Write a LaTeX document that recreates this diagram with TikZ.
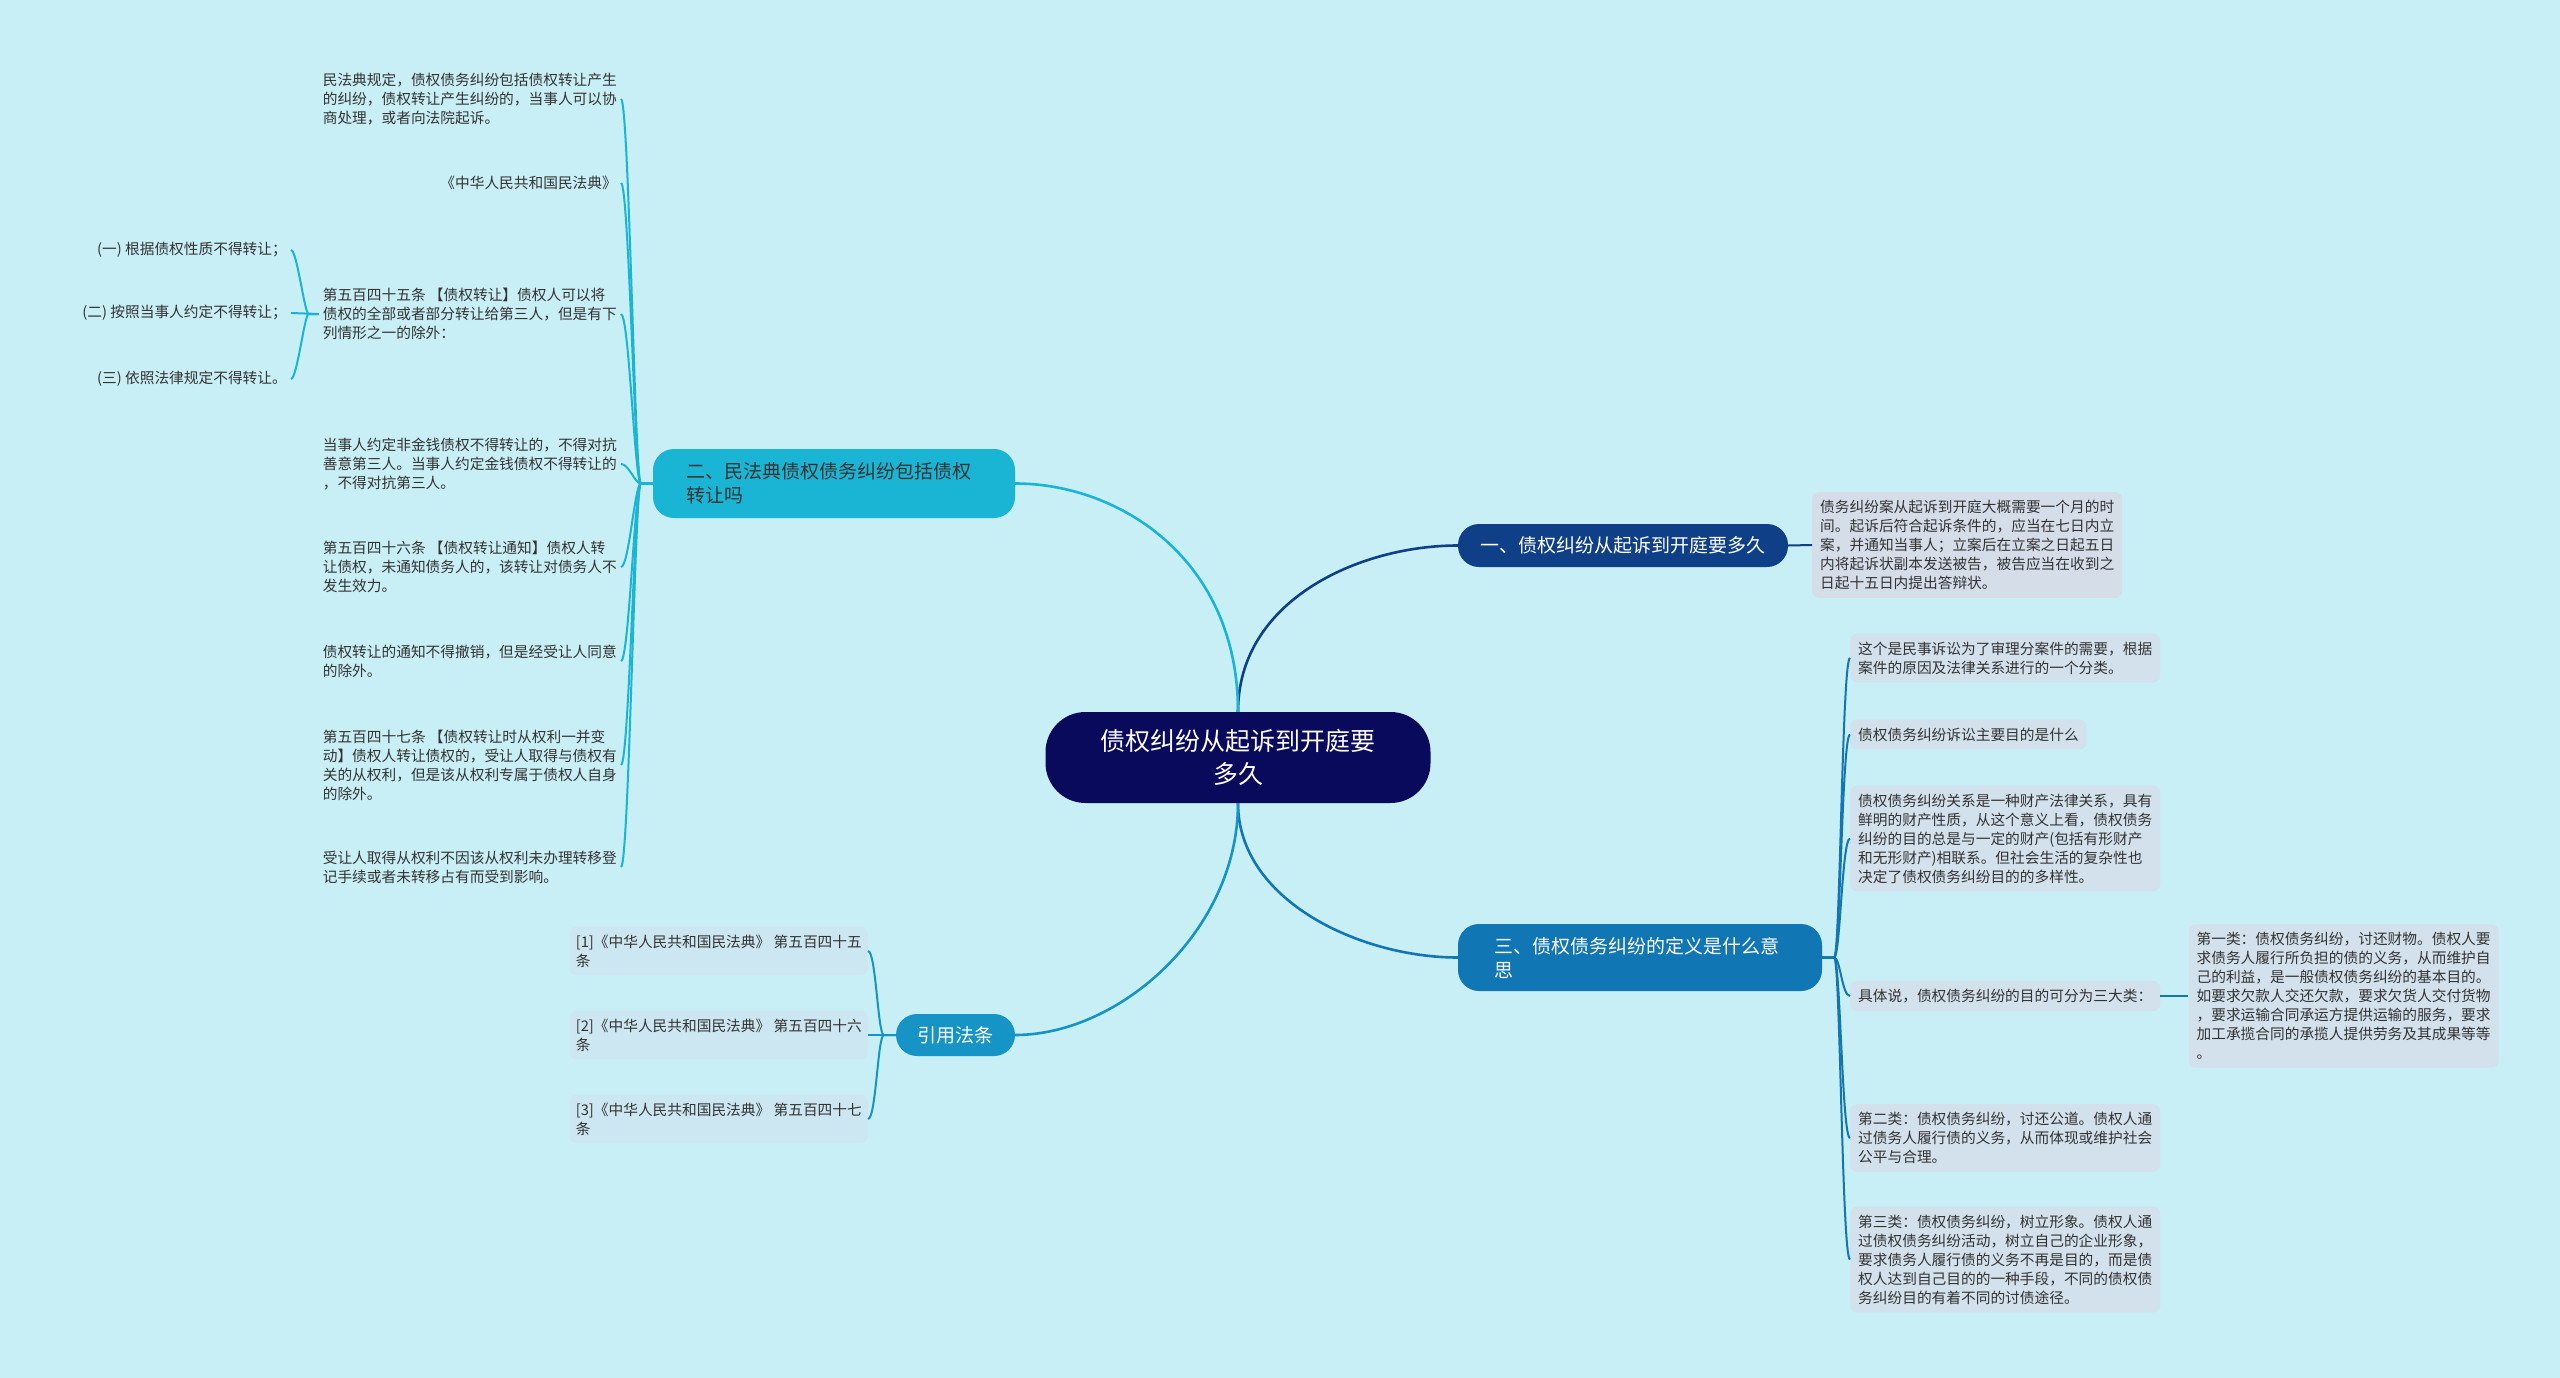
\documentclass[tikz,border=0pt]{standalone}
\usepackage{fontspec}
\setmainfont{Noto Sans CJK SC}
\usepackage{tikz}
\usetikzlibrary{positioning, calc}

\definecolor{bgcyan}{HTML}{C8EEF6}
\definecolor{rootnavy}{HTML}{0A0A5C}
\definecolor{navyone}{HTML}{0E3F87}
\definecolor{cyantwo}{HTML}{1AB4D4}
\definecolor{bluethree}{HTML}{1176B4}
\definecolor{bluefour}{HTML}{1594C5}
\definecolor{leafgray}{HTML}{D2E1EC}
\definecolor{leaflav}{HTML}{D5DDE9}
\definecolor{leaflight}{HTML}{CCE7F1}
\definecolor{textgray}{HTML}{333333}

\begin{document}
\begin{tikzpicture}[
  x=1pt, y=-1pt,
  root/.style={rectangle, rounded corners=40pt, fill=rootnavy, text=white, align=center,
               font=\fontsize{25}{33}\selectfont, minimum width=385pt, minimum height=91pt},
  topic/.style={rectangle, rounded corners=21pt, text=white, align=left,
                font=\fontsize{19}{24}\selectfont},
  leaf/.style={rectangle, rounded corners=7pt, fill=leafgray, text=textgray, align=left,
               font=\fontsize{14.7}{19}\selectfont, inner xsep=8pt, inner ysep=8pt},
  note/.style={leaf, fill=none, inner xsep=4pt},
  link/.style={line width=2pt},
  trunk/.style={line width=2.6pt}
]
\useasboundingbox (0,0) rectangle (2560,1378);
\fill[bgcyan] (0,0) rectangle (2560,1378);

% Central topic
\node[root] (root) at (1238,757.5) {债权纠纷从起诉到开庭要\\多久};

% Main branches
\node[topic, fill=navyone, minimum width=330pt, minimum height=43pt] (one) at (1623,545.5)
  {一、债权纠纷从起诉到开庭要多久};
\node[topic, fill=cyantwo, text=textgray, text width=296pt, inner xsep=33pt, minimum height=69pt] (two) at (834,483.5)
  {二、民法典债权债务纠纷包括债权\\转让吗};
\node[topic, fill=bluethree, text width=292pt, inner xsep=36pt, minimum height=67pt] (three) at (1640,957.5)
  {三、债权债务纠纷的定义是什么意\\思};
\node[topic, fill=bluefour, minimum width=119pt, minimum height=42pt] (four) at (955.5,1035)
  {引用法条};

% Branch one: answer
\node[leaf, fill=leaflav, anchor=west] (ans) at (1812,545)
  {债务纠纷案从起诉到开庭大概需要一个月的时\\间。起诉后符合起诉条件的，应当在七日内立\\案，并通知当事人；立案后在立案之日起五日\\内将起诉状副本发送被告，被告应当在收到之\\日起十五日内提出答辩状。};

% Branch two: civil code notes
\node[note, anchor=east] (law1) at (621,99)
  {民法典规定，债权债务纠纷包括债权转让产生\\的纠纷，债权转让产生纠纷的，当事人可以协\\商处理，或者向法院起诉。};
\node[note, anchor=east] (law2) at (621,183) {《中华人民共和国民法典》};
\node[note, anchor=east] (law3) at (621,314)
  {第五百四十五条 【债权转让】债权人可以将\\债权的全部或者部分转让给第三人，但是有下\\列情形之一的除外：};
\node[note, anchor=east] (law4) at (621,464)
  {当事人约定非金钱债权不得转让的，不得对抗\\善意第三人。当事人约定金钱债权不得转让的\\，不得对抗第三人。};
\node[note, anchor=east] (law5) at (621,567)
  {第五百四十六条 【债权转让通知】债权人转\\让债权，未通知债务人的，该转让对债务人不\\发生效力。};
\node[note, anchor=east] (law6) at (621,661)
  {债权转让的通知不得撤销，但是经受让人同意\\的除外。};
\node[note, anchor=east] (law7) at (621,765)
  {第五百四十七条 【债权转让时从权利一并变\\动】债权人转让债权的，受让人取得与债权有\\关的从权利，但是该从权利专属于债权人自身\\的除外。};
\node[note, anchor=east] (law8) at (621,867)
  {受让人取得从权利不因该从权利未办理转移登\\记手续或者未转移占有而受到影响。};

% Exceptions of article 545
\node[note, anchor=east] (exc1) at (291,250) {(一) 根据债权性质不得转让；};
\node[note, anchor=east] (exc2) at (291,313) {(二) 按照当事人约定不得转让；};
\node[note, anchor=east] (exc3) at (291,379) {(三) 依照法律规定不得转让。};

% Branch three: definition
\node[leaf, anchor=west] (def1) at (1850,658)
  {这个是民事诉讼为了审理分案件的需要，根据\\案件的原因及法律关系进行的一个分类。};
\node[leaf, anchor=west] (def2) at (1850,734.5) {债权债务纠纷诉讼主要目的是什么};
\node[leaf, anchor=west] (def3) at (1850,838.5)
  {债权债务纠纷关系是一种财产法律关系，具有\\鲜明的财产性质，从这个意义上看，债权债务\\纠纷的目的总是与一定的财产(包括有形财产\\和无形财产)相联系。但社会生活的复杂性也\\决定了债权债务纠纷目的的多样性。};
\node[leaf, anchor=west] (def4) at (1850,996) {具体说，债权债务纠纷的目的可分为三大类：};
\node[leaf, anchor=west] (def5) at (1850,1138)
  {第二类：债权债务纠纷，讨还公道。债权人通\\过债务人履行债的义务，从而体现或维护社会\\公平与合理。};
\node[leaf, anchor=west] (def6) at (1850,1259.5)
  {第三类：债权债务纠纷，树立形象。债权人通\\过债权债务纠纷活动，树立自己的企业形象，\\要求债务人履行债的义务不再是目的，而是债\\权人达到自己目的的一种手段，不同的债权债\\务纠纷目的有着不同的讨债途径。};
\node[leaf, right=28pt of def4] (kind1)
  {第一类：债权债务纠纷，讨还财物。债权人要\\求债务人履行所负担的债的义务，从而维护自\\己的利益，是一般债权债务纠纷的基本目的。\\如要求欠款人交还欠款，要求欠货人交付货物\\，要求运输合同承运方提供运输的服务，要求\\加工承揽合同的承揽人提供劳务及其成果等等\\。};

% Branch four: cited articles
\node[leaf, fill=leaflight, inner xsep=6pt, anchor=east] (ref1) at (868,951)
  {[1]《中华人民共和国民法典》 第五百四十五\\条};
\node[leaf, fill=leaflight, inner xsep=6pt, anchor=east] (ref2) at (868,1035)
  {[2]《中华人民共和国民法典》 第五百四十六\\条};
\node[leaf, fill=leaflight, inner xsep=6pt, anchor=east] (ref3) at (868,1119)
  {[3]《中华人民共和国民法典》 第五百四十七\\条};

% Links: root -> main branches
\draw[trunk, navyone] (root.north) .. controls +(0,-112) and +(-98,0) .. (one.west);
\draw[trunk, cyantwo] (root.north) .. controls +(0,-152) and +(105,0) .. (two.east);
\draw[trunk, bluethree] (root.south) .. controls +(0,97) and +(-98,0) .. (three.west);
\draw[trunk, bluefour] (root.south) .. controls +(0,127) and +(105,0) .. (four.east);

% Links: branch one
\draw[link, navyone] (one.east) -- (ans.west);

% Links: branch two
\draw[link, cyantwo] (two.west) -- ++(-12,0) .. controls +(-6,0) and +(8,0) .. (law1.east);
\draw[link, cyantwo] (two.west) -- ++(-12,0) .. controls +(-6,0) and +(8,0) .. (law2.east);
\draw[link, cyantwo] (two.west) -- ++(-12,0) .. controls +(-6,0) and +(8,0) .. (law3.east);
\draw[link, cyantwo] (two.west) -- ++(-12,0) .. controls +(-6,0) and +(8,0) .. (law4.east);
\draw[link, cyantwo] (two.west) -- ++(-12,0) .. controls +(-6,0) and +(8,0) .. (law5.east);
\draw[link, cyantwo] (two.west) -- ++(-12,0) .. controls +(-6,0) and +(8,0) .. (law6.east);
\draw[link, cyantwo] (two.west) -- ++(-12,0) .. controls +(-6,0) and +(8,0) .. (law7.east);
\draw[link, cyantwo] (two.west) -- ++(-12,0) .. controls +(-6,0) and +(8,0) .. (law8.east);

% Links: article 545 exceptions
\draw[link, cyantwo] (law3.west) -- ++(-10,0) .. controls +(-4,0) and +(6,0) .. (exc1.east);
\draw[link, cyantwo] (law3.west) -- (exc2.east);
\draw[link, cyantwo] (law3.west) -- ++(-10,0) .. controls +(-4,0) and +(6,0) .. (exc3.east);

% Links: branch three
\draw[link, bluethree] (three.east) -- ++(12,0) .. controls +(6,0) and +(-8,0) .. (def1.west);
\draw[link, bluethree] (three.east) -- ++(12,0) .. controls +(6,0) and +(-8,0) .. (def2.west);
\draw[link, bluethree] (three.east) -- ++(12,0) .. controls +(6,0) and +(-8,0) .. (def3.west);
\draw[link, bluethree] (three.east) -- ++(12,0) .. controls +(6,0) and +(-8,0) .. (def4.west);
\draw[link, bluethree] (three.east) -- ++(12,0) .. controls +(6,0) and +(-8,0) .. (def5.west);
\draw[link, bluethree] (three.east) -- ++(12,0) .. controls +(6,0) and +(-8,0) .. (def6.west);
\draw[link, bluethree] (def4.east) -- (kind1.west);

% Links: branch four
\draw[link, bluefour] (four.west) -- ++(-12,0) .. controls +(-6,0) and +(8,0) .. (ref1.east);
\draw[link, bluefour] (four.west) -- (ref2.east);
\draw[link, bluefour] (four.west) -- ++(-12,0) .. controls +(-6,0) and +(8,0) .. (ref3.east);

\end{tikzpicture}
\end{document}
